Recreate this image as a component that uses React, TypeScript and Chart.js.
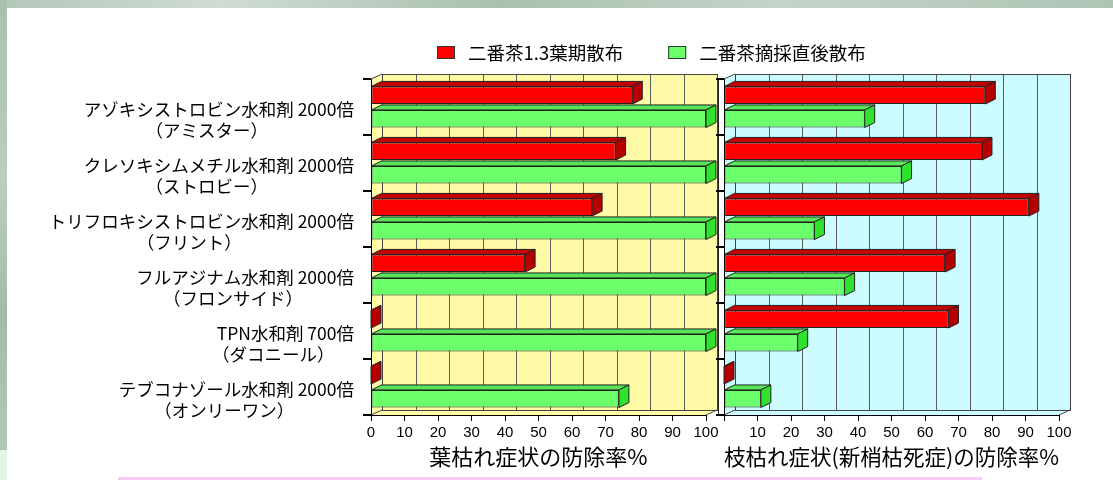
import React, { useEffect, useRef } from "react";
import { Chart, registerables } from "chart.js";
Chart.register(...registerables);

const categories = [
  "アゾキシストロビン水和剤 2000倍",
  "クレソキシムメチル水和剤 2000倍",
  "トリフロキシストロビン水和剤 2000倍",
  "フルアジナム水和剤 2000倍",
  "TPN水和剤 700倍",
  "テブコナゾール水和剤 2000倍",
];
const tradeNames = ["（アミスター）", "（ストロビー）", "（フリント）", "（フロンサイド）", "（ダコニール）", "（オンリーワン）"];
const seriesNames = ["二番茶1.3葉期散布", "二番茶摘採直後散布"];
const leafBlightEarly = [78, 73, 66, 46, 0, 0];
const leafBlightAfter = [100, 100, 100, 100, 100, 74];
const shootBlightEarly = [78, 77, 91, 66, 67, 0];
const shootBlightAfter = [42, 53, 27, 36, 22, 11];
const leftTitle = "葉枯れ症状の防除率%";
const rightTitle = "枝枯れ症状(新梢枯死症)の防除率%";

const JP = "'Noto Sans CJK JP', 'Noto Sans', sans-serif";
const NUM = "'Liberation Sans', Arial, sans-serif";
const W = 1113;
const H = 480;
const DX = 11;
const DY = 5;
const BDX = 10;
const BDY = 5;

const FACES = [
  { front: "#ff0000", top: "#c40000", side: "#b40000" },
  { front: "#6cff6c", top: "#56e656", side: "#2ee22e" },
];

const walls = {
  id: "walls",
  beforeDraw(chart: any, _a: any, opts: any) {
    const { ctx, chartArea: a } = chart;
    const x = chart.scales.x;
    ctx.save();
    ctx.fillStyle = opts.color;
    ctx.beginPath();
    ctx.moveTo(a.left, a.top);
    ctx.lineTo(a.left + DX, a.top - DY);
    ctx.lineTo(a.left + DX, a.bottom - DY);
    ctx.lineTo(a.left, a.bottom);
    ctx.closePath();
    ctx.fill();
    ctx.beginPath();
    ctx.moveTo(a.left, a.bottom);
    ctx.lineTo(a.right, a.bottom);
    ctx.lineTo(a.right + DX, a.bottom - DY);
    ctx.lineTo(a.left + DX, a.bottom - DY);
    ctx.closePath();
    ctx.fill();
    ctx.fillRect(a.left + DX, a.top - DY, a.right - a.left, a.bottom - a.top);
    ctx.strokeStyle = "#5e5e5e";
    ctx.lineWidth = 1;
    for (let v = 10; v < 100; v += 10) {
      const px = Math.round(x.getPixelForValue(v) + DX) + 0.5;
      ctx.beginPath();
      ctx.moveTo(px, a.top - DY);
      ctx.lineTo(px, a.bottom - DY);
      ctx.stroke();
    }
    ctx.strokeStyle = "#444";
    ctx.strokeRect(Math.round(a.left + DX) + 0.5, Math.round(a.top - DY) + 0.5, a.right - a.left, a.bottom - a.top);
    ctx.beginPath();
    ctx.moveTo(a.left, a.top);
    ctx.lineTo(a.left + DX, a.top - DY);
    ctx.moveTo(a.right, a.bottom);
    ctx.lineTo(a.right + DX, a.bottom - DY);
    ctx.moveTo(a.left, a.bottom);
    ctx.lineTo(a.left + DX, a.bottom - DY);
    ctx.stroke();
    if (opts.band) {
      ctx.fillStyle = "#ffffff";
      ctx.fillRect(a.left - 6, a.top, 6, a.bottom - a.top);
      ctx.strokeStyle = "#222";
      ctx.beginPath();
      ctx.moveTo(a.left - 5.5, a.top);
      ctx.lineTo(a.left - 5.5, a.bottom);
      ctx.stroke();
    }
    ctx.restore();
  },
};

const bar3d = {
  id: "bar3d",
  afterDatasetsDraw(chart: any) {
    const ctx = chart.ctx;
    chart.data.datasets.forEach((_ds: any, di: number) => {
      const meta = chart.getDatasetMeta(di);
      const f = FACES[di];
      meta.data.forEach((el: any) => {
        const { x, y, base, height } = el.getProps(["x", "y", "base", "height"], true);
        const t = y - height / 2;
        const b = y + height / 2;
        const x0 = Math.min(x, base);
        const x1 = Math.max(x, base);
        ctx.save();
        ctx.lineWidth = 1;
        ctx.strokeStyle = "#222";
        ctx.lineJoin = "round";
        ctx.beginPath();
        ctx.moveTo(x0, t);
        ctx.lineTo(x0 + BDX, t - BDY);
        ctx.lineTo(x1 + BDX, t - BDY);
        ctx.lineTo(x1, t);
        ctx.closePath();
        ctx.fillStyle = f.top;
        ctx.fill();
        ctx.stroke();
        ctx.beginPath();
        ctx.moveTo(x1, t);
        ctx.lineTo(x1 + BDX, t - BDY);
        ctx.lineTo(x1 + BDX, b - BDY);
        ctx.lineTo(x1, b);
        ctx.closePath();
        ctx.fillStyle = f.side;
        ctx.fill();
        ctx.stroke();
        ctx.restore();
      });
    });
  },
};

const yLabels = {
  id: "yLabels",
  afterDraw(chart: any, _a: any, opts: any) {
    if (!opts.show) return;
    const { ctx } = chart;
    const y = chart.scales.y;
    const right = chart.chartArea.left - 17;
    ctx.save();
    ctx.fillStyle = "#000";
    ctx.textBaseline = "middle";
    categories.forEach((c, i) => {
      const cy = y.getPixelForValue(i);
      ctx.font = `17.5px ${JP}`;
      const w = ctx.measureText(c).width;
      ctx.textAlign = "right";
      ctx.fillText(c, right, cy + 2);
      ctx.textAlign = "center";
      ctx.fillText(tradeNames[i], right - w / 2 - 12, cy + 23);
    });
    ctx.restore();
  },
};

const legendBox = {
  id: "legendBox",
  afterDraw(chart: any, _a: any, opts: any) {
    if (!opts.show) return;
    const ctx = chart.ctx;
    let x = 437;
    const y = 53;
    ctx.save();
    ctx.font = `18.5px ${JP}`;
    ctx.textBaseline = "middle";
    ctx.textAlign = "left";
    chart.data.datasets.forEach((ds: any) => {
      ctx.fillStyle = ds.backgroundColor;
      ctx.fillRect(x, y - 7, 18, 13);
      ctx.strokeStyle = "#333";
      ctx.lineWidth = 1;
      ctx.strokeRect(x + 0.5, y - 6.5, 17, 12);
      ctx.fillStyle = "#000";
      ctx.fillText(ds.label, x + 31, y);
      x += 31 + ctx.measureText(ds.label).width + 45;
    });
    ctx.restore();
  },
};

function makeConfig(early: number[], after: number[], title: string, side: "left" | "right"): any {
  const isLeft = side === "left";
  const yWidth = isLeft ? 371 : 724;
  const rightPad = isLeft ? W - 706 : W - 1059;
  return {
    type: "bar",
    data: {
      labels: categories,
      datasets: [
        {
          label: seriesNames[0],
          data: early,
          backgroundColor: FACES[0].front,
          borderColor: "#222",
          borderWidth: 1,
          borderSkipped: false,
          categoryPercentage: 0.84,
          barPercentage: 0.75,
        },
        {
          label: seriesNames[1],
          data: after,
          backgroundColor: FACES[1].front,
          borderColor: "#222",
          borderWidth: 1,
          borderSkipped: false,
          categoryPercentage: 0.84,
          barPercentage: 0.75,
        },
      ],
    },
    options: {
      indexAxis: "y",
      responsive: false,
      animation: false,
      devicePixelRatio: 1,
      layout: { padding: { top: 79, right: rightPad, left: 0, bottom: 0 } },
      plugins: {
        legend: { display: false },
        tooltip: { enabled: false },
        walls: { color: isLeft ? "#fffaa8" : "#ccfcff", band: !isLeft },
        yLabels: { show: isLeft },
        legendBox: { show: isLeft },
      },
      scales: {
        x: {
          min: 0,
          max: 100,
          afterFit: (s: any) => {
            s.height = H - 415;
          },
          ticks: {
            stepSize: 10,
            autoSkip: false,
            maxRotation: 0,
            color: "#000",
            padding: 3,
            font: { family: NUM, size: 15 },
            callback: (v: any) => (!isLeft && v === 0 ? "" : String(v)),
          },
          grid: { display: true, drawOnChartArea: false, drawTicks: true, tickLength: 6, color: "#000" },
          border: { display: true, color: "#000", width: 1 },
          title: {
            display: true,
            text: title,
            color: "#000",
            font: { family: JP, size: 22 },
            padding: { top: 0, bottom: 10 },
          },
        },
        y: {
          afterFit: (s: any) => {
            s.width = yWidth;
          },
          ticks: { display: false },
          grid: { display: true, offset: true, drawOnChartArea: false, drawTicks: true, tickLength: 8, color: "#000", lineWidth: 2 },
          border: { display: true, color: "#000", width: 1 },
        },
      },
    },
    plugins: [walls, bar3d, yLabels, legendBox],
  };
}

export default function App() {
  const leftRef = useRef<HTMLCanvasElement>(null);
  const rightRef = useRef<HTMLCanvasElement>(null);
  useEffect(() => {
    document.body.style.margin = "0";
    document.body.style.overflow = "hidden";
    const c1 = new Chart(leftRef.current as HTMLCanvasElement, makeConfig(leafBlightEarly, leafBlightAfter, leftTitle, "left"));
    const c2 = new Chart(rightRef.current as HTMLCanvasElement, makeConfig(shootBlightEarly, shootBlightAfter, rightTitle, "right"));
    return () => {
      c1.destroy();
      c2.destroy();
    };
  }, []);
  const abs: React.CSSProperties = { position: "absolute" };
  return (
    <div style={{ position: "absolute", left: 0, top: 0, width: W, height: H, background: "#ffffff", overflow: "hidden" }}>
      <div style={{ ...abs, left: 0, top: 0, width: W, height: 8, background: "linear-gradient(90deg,#b3c7b9,#cfdcd2 20%,#a9c0b0 45%,#c4d4c8 70%,#aec4b5)" }} />
      <div style={{ ...abs, left: 0, top: 0, width: 7, height: 450, background: "linear-gradient(180deg,#a9c0b0,#bccdc1 40%,#a3bba9 70%,#b3c7b8)" }} />
      <div style={{ ...abs, left: 0, top: 450, width: 7, height: 30, background: "#e2f5e6" }} />
      <div style={{ ...abs, left: 118, top: 477, width: 864, height: 3, background: "#f6cdf6" }} />
      <canvas ref={leftRef} width={W} height={H} style={{ ...abs, left: 0, top: 0, width: W, height: H }} />
      <canvas ref={rightRef} width={W} height={H} style={{ ...abs, left: 0, top: 0, width: W, height: H }} />
    </div>
  );
}
